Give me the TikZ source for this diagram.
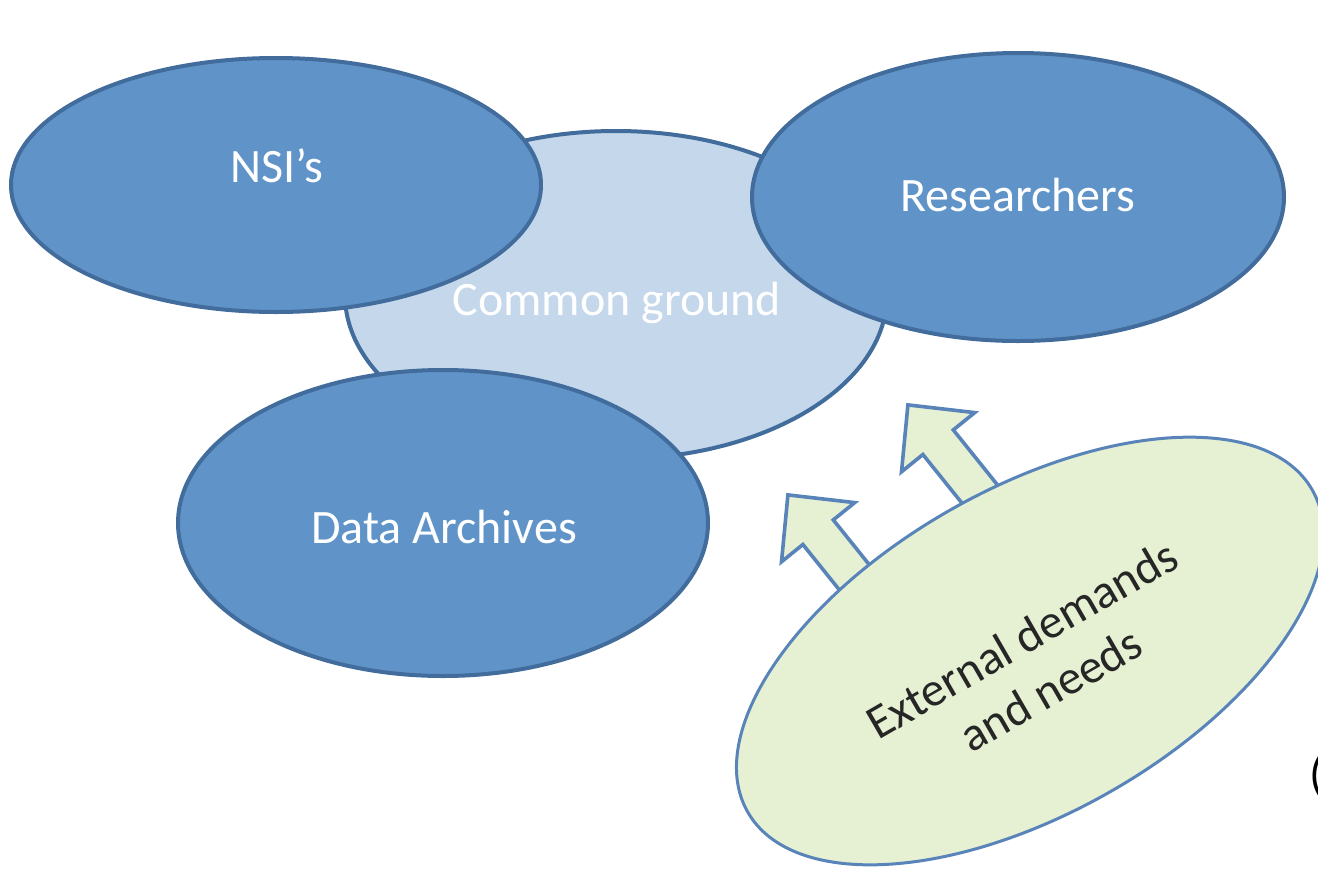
\documentclass[tikz,border=0pt]{standalone}
\usepackage{fontspec}
\setmainfont{Carlito}
\usetikzlibrary{shapes.geometric}
\definecolor{bluefill}{RGB}{96,148,201}
\definecolor{blueline}{RGB}{65,108,156}
\definecolor{commonfill}{RGB}{196,215,235}
\definecolor{greenfill}{RGB}{230,240,210}
\definecolor{greenline}{RGB}{88,132,186}
\definecolor{darktext}{RGB}{38,38,38}
\begin{document}
\begin{tikzpicture}[x=0.5pt,y=-0.5pt,
  bigfont/.style={font=\fontsize{24}{29}\selectfont},
  actor/.style={ellipse, draw=blueline, line width=2pt, fill=bluefill, inner sep=0pt},
  common/.style={ellipse, draw=blueline, line width=2pt, fill=commonfill, inner sep=0pt},
  wlabel/.style={bigfont, text=white, anchor=base, inner sep=0pt},
  demand/.style={ellipse, draw=greenline, line width=1.5pt, fill=greenfill, inner sep=0pt},
  blockarrow/.style={draw=greenline, line width=1.8pt, fill=greenfill, line join=miter}]
\useasboundingbox (0,0) rectangle (1318,868);

% common ground (behind)
\node[common, minimum width=271pt, minimum height=164pt] (common) at (616,295) {};
% actors
\node[actor, minimum width=265pt, minimum height=127pt] (nsi) at (276,185) {};
\node[actor, minimum width=266pt, minimum height=144pt] (res) at (1018,197) {};
\node[actor, minimum width=265pt, minimum height=153pt] (data) at (443,523) {};

\node[wlabel] (commonlbl) at (617,315.5) {Common ground};
\node[wlabel] (nsilbl) at (277,182.5) {NSI’s};
\node[wlabel] (reslbl) at (1018,211.5) {Researchers};
\node[wlabel] (datalbl) at (444,543.5) {Data Archives};

% block arrows
\draw[blockarrow] (885,584.3) -- (833.3,519.9) -- (854.7,502.6) -- (787.9,494.9)
  -- (781.5,561.8) -- (802.9,544.5) -- (854.6,608.9) -- cycle;
\draw[blockarrow] (1005,494.3) -- (953.3,429.9) -- (974.7,412.6) -- (907.9,404.9)
  -- (901.5,471.8) -- (922.9,454.5) -- (974.6,518.9) -- cycle;

% external demands
\node[demand, minimum width=325pt, minimum height=162pt, rotate=29.7] (ext) at (1030,651) {};
\node[bigfont, text=darktext, align=center, rotate=30, inner sep=0pt] (extlbl) at (1036,664)
  {External demands\\and needs};

\node[bigfont, anchor=base west, inner sep=0pt] (paren) at (1309,790) {(};
\end{tikzpicture}
\end{document}
